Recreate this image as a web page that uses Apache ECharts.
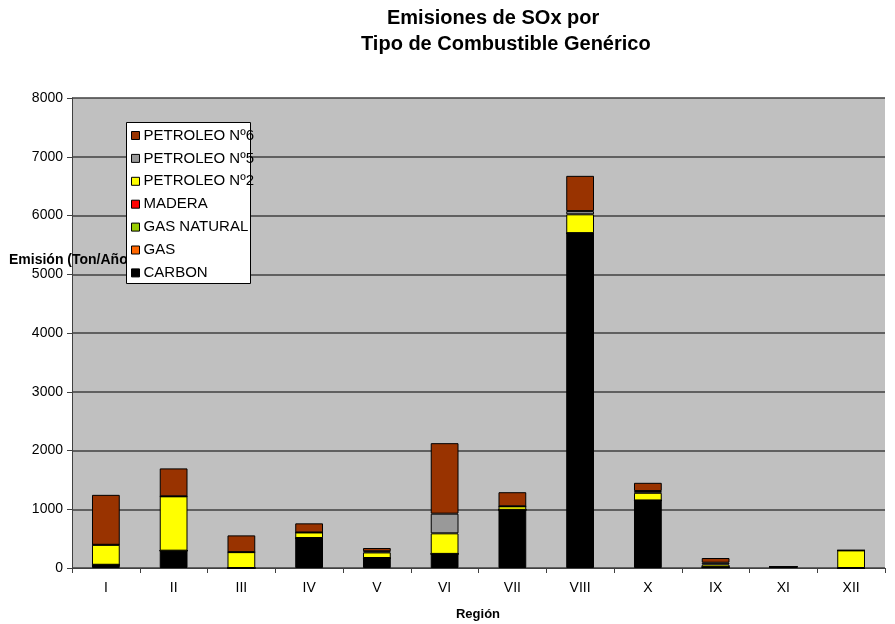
<!DOCTYPE html>
<html>
<head>
<meta charset="utf-8">
<script src="https://cdn.jsdelivr.net/npm/echarts@6/dist/echarts.min.js"></script>
<style>
  html, body { margin: 0; padding: 0; background: #ffffff; }
  #chart { width: 895px; height: 624px; }
</style>
</head>
<body>
<div id="chart"></div>
<script>
// Regions of the country
const regions = ['I', 'II', 'III', 'IV', 'V', 'VI', 'VII', 'VIII', 'X', 'IX', 'XI', 'XII'];

// SOx emissions by fuel type (Ton/Año)
const carbon      = [55, 295, 0, 510, 170, 240, 990, 5700, 1150, 15, 20, 0];
const gas         = [0, 0, 0, 0, 0, 0, 0, 0, 0, 0, 0, 0];
const gasNatural  = [0, 0, 0, 0, 0, 0, 0, 0, 0, 0, 0, 0];
const madera      = [0, 0, 0, 0, 0, 0, 0, 0, 0, 0, 0, 0];
const petroleo2   = [340, 925, 270, 95, 95, 350, 60, 320, 130, 45, 0, 300];
const petroleo5   = [0, 0, 0, 0, 20, 335, 0, 55, 30, 30, 0, 0];
const petroleo6   = [850, 475, 285, 155, 55, 1200, 240, 600, 140, 80, 0, 0];

const yTicks = [0, 1000, 2000, 3000, 4000, 5000, 6000, 7000, 8000];

const seriesDefs = [
  { name: 'CARBON', data: carbon, color: '#000000' },
  { name: 'GAS', data: gas, color: '#FF6600' },
  { name: 'GAS NATURAL', data: gasNatural, color: '#99CC00' },
  { name: 'MADERA', data: madera, color: '#FF0000' },
  { name: 'PETROLEO Nº2', data: petroleo2, color: '#FFFF00' },
  { name: 'PETROLEO Nº5', data: petroleo5, color: '#999999' },
  { name: 'PETROLEO Nº6', data: petroleo6, color: '#993300' }
];

const font = 'Liberation Sans, Arial, sans-serif';
const chart = echarts.init(document.getElementById('chart'), null, { renderer: 'canvas' });

chart.setOption({
  animation: false,
  textStyle: { fontFamily: font },
  grid: {
    left: 72, right: 10, top: 98, bottom: 56,
    show: true, backgroundColor: '#C0C0C0', borderColor: '#C0C0C0', borderWidth: 0
  },
  graphic: [
    // two-line chart title
    { type: 'text', z: 5, left: 387, top: 8,
      style: { text: 'Emisiones de SOx por', font: 'bold 20px ' + font, fill: '#000' } },
    { type: 'text', z: 5, left: 361, top: 34,
      style: { text: 'Tipo de Combustible Genérico', font: 'bold 20px ' + font, fill: '#000' } },
    // value axis title (partly hidden under the legend box)
    { type: 'text', z: 3, left: 9, top: 253,
      style: { text: 'Emisión (Ton/Año)', font: 'bold 14px ' + font, fill: '#000' } },
    // category axis title
    { type: 'text', z: 5, x: 478, y: 608,
      style: { text: 'Región', font: 'bold 13px ' + font, fill: '#000', textAlign: 'center' } },
    // legend frame
    { type: 'rect', z: 8, shape: { x: 126.5, y: 122.5, width: 124, height: 161 },
      style: { fill: '#ffffff', stroke: '#000000', lineWidth: 1 } }
  ],
  legend: {
    orient: 'vertical',
    left: 131, top: 128,
    z: 10,
    data: seriesDefs.map(s => s.name).reverse(),
    padding: 0,
    itemWidth: 8, itemHeight: 8, itemGap: 7.9,
    icon: 'rect',
    itemStyle: { borderColor: '#000', borderWidth: 1 },
    textStyle: { fontSize: 15, color: '#000', fontFamily: font, padding: [0, 0, 0, -1], lineHeight: 15 }
  },
  xAxis: {
    type: 'category',
    data: regions,
    axisLine: { lineStyle: { color: '#404040', width: 1 } },
    axisTick: { show: true, alignWithLabel: false, length: 5, lineStyle: { color: '#404040' } },
    axisLabel: { color: '#000', fontSize: 14, margin: 13, fontFamily: font },
    splitLine: { show: false }
  },
  yAxis: {
    type: 'value',
    min: 0, max: 8000, interval: 1000,
    axisLine: { show: true, lineStyle: { color: '#404040', width: 1 } },
    axisTick: { show: true, length: 5, lineStyle: { color: '#404040' } },
    axisLabel: { color: '#000', fontSize: 14, margin: 9, fontFamily: font,
      formatter: v => (yTicks.indexOf(v) >= 0 ? String(v) : '') },
    splitLine: { show: true, lineStyle: { color: '#404040', width: 1.5 } }
  },
  series: seriesDefs.map(s => ({
    name: s.name,
    type: 'bar',
    stack: 'total',
    barWidth: '41%',
    data: s.data,
    itemStyle: { color: s.color, borderColor: '#000', borderWidth: 1 }
  }))
});
</script>
</body>
</html>
